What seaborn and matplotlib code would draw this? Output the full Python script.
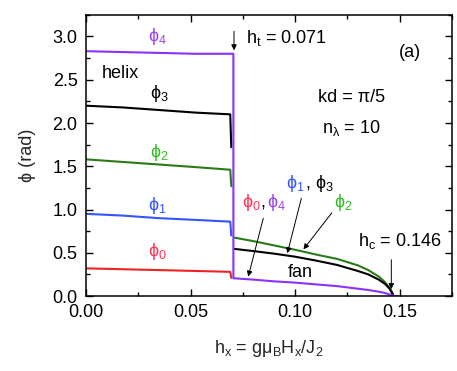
import matplotlib
matplotlib.use('Agg')
import matplotlib.pyplot as plt
from matplotlib.ticker import MultipleLocator, FormatStrFormatter
import seaborn as sns
import pandas as pd
import numpy as np

# helix phase (h < h_t), then the jump at h_t
h_helix = [0.0, 0.0175, 0.035, 0.0525, 0.069, 0.0695]
phi0_helix = [0.32, 0.31, 0.30, 0.29, 0.28, 0.21]
phi1_helix = [0.95, 0.93, 0.90, 0.88, 0.86, 0.70]
phi2_helix = [1.58, 1.55, 1.52, 1.49, 1.46, 1.27]
phi3_helix = [2.20, 2.18, 2.15, 2.12, 2.10, 1.72]
phi4_helix = [2.83, 2.82, 2.81, 2.80, 2.80, 2.80]

# fan phase (h_t < h < h_c)
h_fan = [0.0705, 0.071, 0.08, 0.09, 0.10, 0.11, 0.12, 0.13, 0.135, 0.14, 0.143, 0.145, 0.1465, 0.147, 0.149]
phi2_fan = [np.nan, 0.675, 0.635, 0.585, 0.535, 0.48, 0.43, 0.355, 0.30, 0.225, 0.16, 0.10, 0.04, 0.0, 0.0]
phi13_fan = [np.nan, 0.545, 0.52, 0.49, 0.455, 0.41, 0.36, 0.29, 0.25, 0.19, 0.14, 0.09, 0.03, 0.0, 0.0]
phi04_fan = [0.205, 0.205, 0.19, 0.17, 0.155, 0.135, 0.115, 0.085, 0.07, 0.05, 0.035, 0.02, 0.008, 0.0, 0.0]

sns.set_style('ticks')
plt.rcParams['font.family'] = ['Liberation Sans', 'DejaVu Sans']
plt.rcParams['mathtext.fontset'] = 'custom'
plt.rcParams['mathtext.rm'] = 'Liberation Sans'
plt.rcParams['mathtext.it'] = 'Liberation Sans'
plt.rcParams['mathtext.default'] = 'regular'

red, blue, green, purple = '#ee2222', '#3355ff', '#2a7a1a', '#8833ff'
lab_red, lab_green, lab_purple = '#ff3355', '#33bb22', '#9944ee'

fig, ax = plt.subplots(figsize=(4.57, 3.71), dpi=100)
fig.subplots_adjust(left=0.188, right=0.989, bottom=0.202, top=0.96)

def line(x, y, c):
    df = pd.DataFrame({'h': x, 'phi': y}).dropna()
    sns.lineplot(data=df, x='h', y='phi', color=c, lw=1.5, sort=False,
                 estimator=None, ax=ax)

line(h_helix, phi0_helix, red)
line(h_helix, phi1_helix, blue)
line(h_helix, phi2_helix, green)
line(h_helix, phi3_helix, 'black')
line(h_fan, phi2_fan, green)
line(h_fan, phi13_fan, 'black')
# purple: helix branch, vertical jump, fan branch
line(h_helix[:-1] + [0.0705] + h_fan, phi4_helix[:-1] + [2.80] + phi04_fan, purple)

ax.set_xlim(0, 0.175)
ax.set_ylim(0, 3.25)
ax.xaxis.set_major_locator(MultipleLocator(0.05))
ax.xaxis.set_minor_locator(MultipleLocator(0.025))
ax.yaxis.set_major_locator(MultipleLocator(0.5))
ax.yaxis.set_minor_locator(MultipleLocator(0.25))
ax.xaxis.set_major_formatter(FormatStrFormatter('%.2f'))
ax.yaxis.set_major_formatter(FormatStrFormatter('%.1f'))
ax.tick_params(which='both', direction='in', top=True, right=True, width=1.0,
               labelsize=13, colors='black', pad=6)
ax.tick_params(which='major', length=5)
ax.tick_params(which='minor', length=3)
for s in ax.spines.values():
    s.set_linewidth(1.1)
    s.set_color('black')

fs = 13
ax.set_xlabel('$h_x$ = g$\\mu_B H_x /J_2$', fontsize=fs, labelpad=12)
ax.set_ylabel('ϕ (rad)', fontsize=fs, labelpad=12)

ax.text(0.034, 3.0, 'ϕ$_4$', color=lab_purple, fontsize=fs, ha='center', va='center')
ax.text(0.0077, 2.57, 'helix', color='black', fontsize=fs, ha='left', va='center')
ax.text(0.035, 2.34, 'ϕ$_3$', color='black', fontsize=fs, ha='center', va='center')
ax.text(0.035, 1.66, 'ϕ$_2$', color=lab_green, fontsize=fs, ha='center', va='center')
ax.text(0.034, 1.05, 'ϕ$_1$', color=blue, fontsize=fs, ha='center', va='center')
ax.text(0.034, 0.52, 'ϕ$_0$', color=lab_red, fontsize=fs, ha='center', va='center')

ax.text(0.0745, 1.08, 'ϕ$_0$', color=lab_red, fontsize=fs, ha='left', va='center')
ax.text(0.0835, 1.08, ',', color='black', fontsize=fs, ha='left', va='center')
ax.text(0.0865, 1.08, 'ϕ$_4$', color=lab_purple, fontsize=fs, ha='left', va='center')
ax.text(0.0955, 1.30, 'ϕ$_1$', color=blue, fontsize=fs, ha='left', va='center')
ax.text(0.1045, 1.30, ', ϕ$_3$', color='black', fontsize=fs, ha='left', va='center')
ax.text(0.1185, 1.08, 'ϕ$_2$', color=lab_green, fontsize=fs, ha='left', va='center')
ax.text(0.1025, 0.27, 'fan', color='black', fontsize=fs, ha='center', va='center')

ax.text(0.1300, 0.64, '$h_c$ = 0.146', color='black', fontsize=fs, ha='left', va='center')
ax.text(0.0765, 2.98, '$h_t$ = 0.071', color='black', fontsize=fs, ha='left', va='center')
ax.text(0.155, 2.82, '(a)', color='black', fontsize=fs, ha='center', va='center')
ax.text(0.127, 2.29, 'kd = π/5', color='black', fontsize=fs, ha='center', va='center')
ax.text(0.127, 1.94, '$n_λ$ = 10', color='black', fontsize=fs, ha='center', va='center')

arrow = dict(arrowstyle='-|>', color='black', lw=0.7, mutation_scale=8,
             shrinkA=0, shrinkB=0)
ax.annotate('', xy=(0.0776, 0.225), xytext=(0.0848, 0.90), arrowprops=arrow)
ax.annotate('', xy=(0.0963, 0.495), xytext=(0.103, 1.13), arrowprops=arrow)
ax.annotate('', xy=(0.104, 0.54), xytext=(0.1175, 0.96), arrowprops=arrow)
ax.annotate('', xy=(0.146, 0.08), xytext=(0.146, 0.42), arrowprops=arrow)
ax.annotate('', xy=(0.0708, 2.84), xytext=(0.0708, 3.06), arrowprops=arrow)

fig.savefig('out.png', dpi=100)
